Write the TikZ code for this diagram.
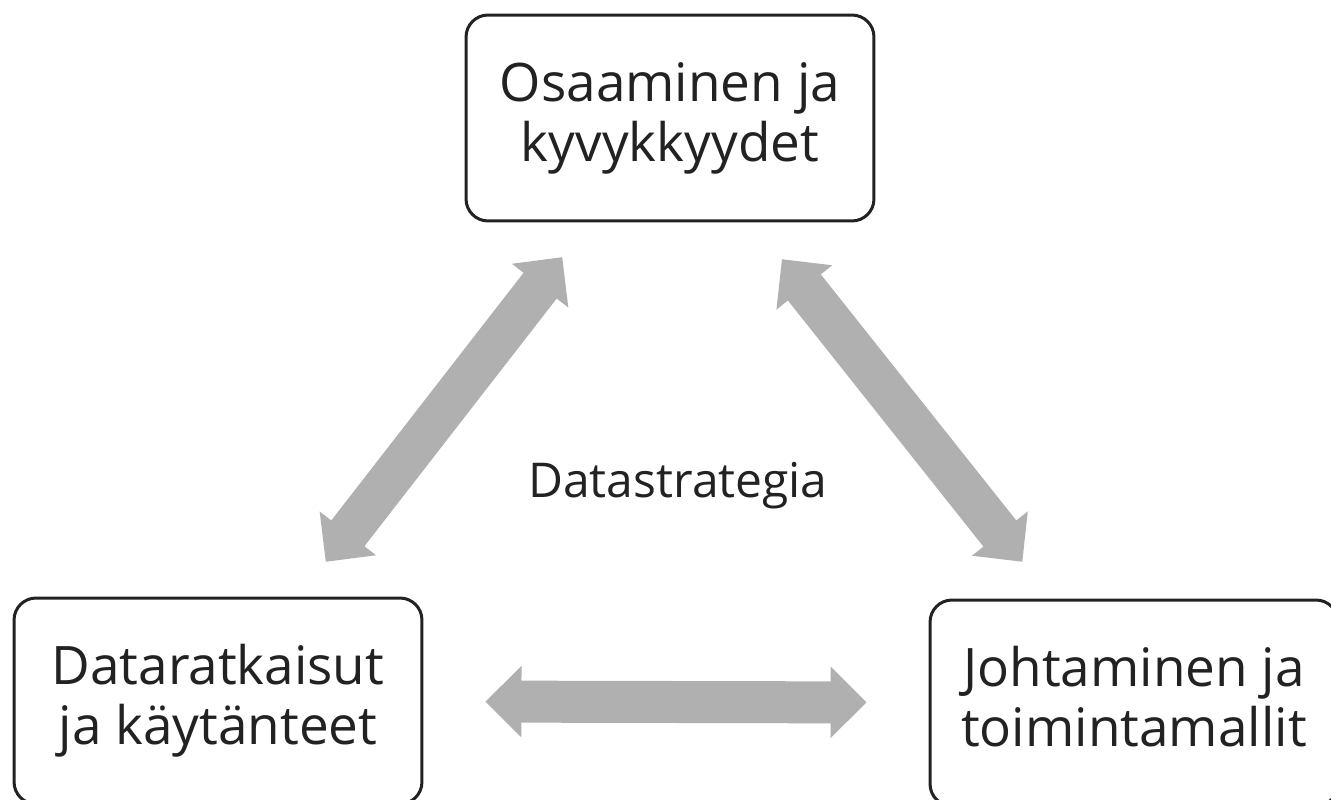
\documentclass[tikz,border=0pt]{standalone}
\usepackage{fontspec}
\setmainfont{Open Sans}
\usepackage{tikz}
\usetikzlibrary{arrows.meta}
\definecolor{arrowgray}{RGB}{176,176,176}
\definecolor{inkgray}{RGB}{34,34,34}

\begin{document}
\begin{tikzpicture}[x=0.02cm, y=-0.02cm, every node/.style={text=inkgray}, b/.style={draw=inkgray, line width=0.06cm, rounded corners=0.44cm, minimum width=8.16cm, minimum height=4.12cm, align=center, font=\fontsize{30.2pt}{34.1pt}\selectfont}, link/.style={draw=arrowgray, line width=0.84cm, {Triangle[length=0.72cm, width=1.42cm, line width=1.2pt]}-{Triangle[length=0.72cm, width=1.42cm, line width=1.2pt]}}]
	\clip (0,0) rectangle (1331,800);
	\node[b] (O) at (670,118) {Osaaminen ja\\kyvykkyydet};
	\node[b] (D) at (218,701) {Dataratkaisut\\ja käytänteet};
	\node[b] (J) at (1134,703) {Johtaminen ja\\toimintamallit\vphantom{y}};
	\foreach \a/\b/\s in {O/D/0.88cm, O/J/0.94cm, D/J/1.24cm} {\draw[link, shorten <=\s, shorten >=\s] (\a) -- (\b);}
	\node[font=\fontsize{27.3pt}{32pt}\selectfont, anchor=base] (S) at (678,497) {Datastrategia};
\end{tikzpicture}
\end{document}
